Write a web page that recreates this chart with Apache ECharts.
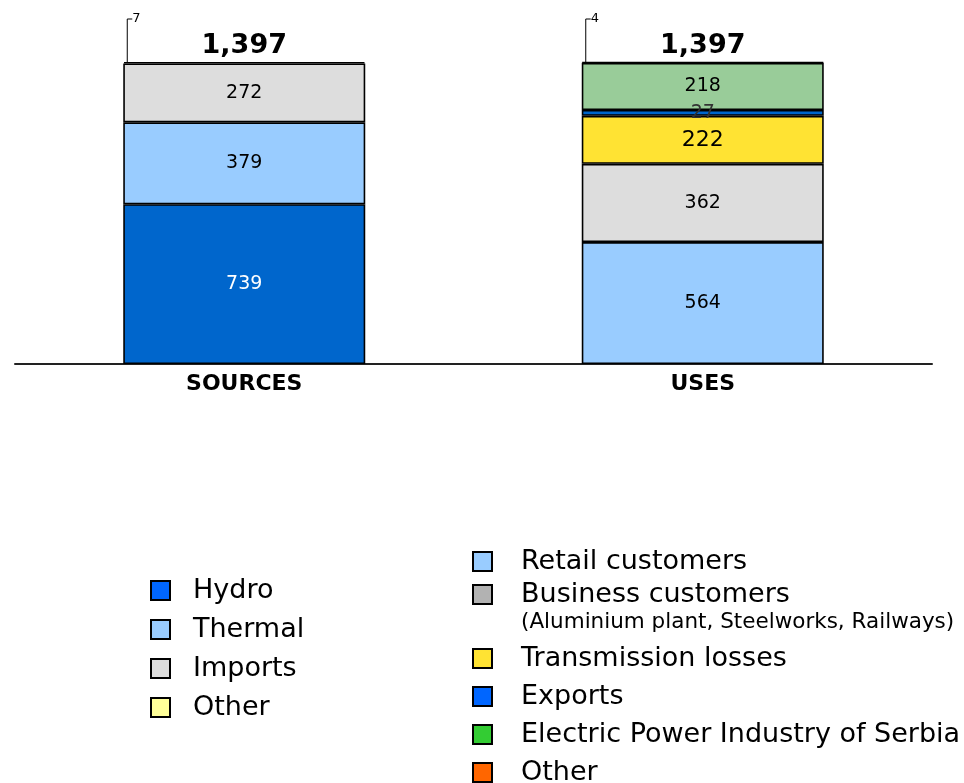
<!DOCTYPE html>
<html>
<head>
<meta charset="utf-8">
<script src="https://cdn.jsdelivr.net/npm/echarts@6/dist/echarts.min.js"></script>
<style>
  html, body { margin: 0; padding: 0; background: #fff; }
  #main { width: 964px; height: 783px; }
</style>
</head>
<body>
<div id="main"></div>
<script>
// data
var categories = ['SOURCES', 'USES'];
var sourceNames = ['Hydro', 'Thermal', 'Imports', 'Other'];
var sourceValues = [739, 379, 272, 7];
var useNames = ['Retail customers', 'Business customers', 'Transmission losses', 'Exports', 'Electric Power Industry of Serbia', 'Other uses'];
var useValues = [564, 362, 222, 27, 218, 4];

// colours (bar fill / legend key differ in the original)
var sourceBarColors = ['#0066CC', '#99CCFF', '#DDDDDD', '#FFFF99'];
var sourceKeyColors = ['#0066FF', '#99CCFF', '#DDDDDD', '#FFFF99'];
var useBarColors = ['#99CCFF', '#DDDDDD', '#FFE333', '#0066CC', '#99CC99', '#FF6600'];
var useKeyColors = ['#99CCFF', '#B2B2B2', '#FFE333', '#0066FF', '#33CC33', '#FF6600'];

var FONT = '"DejaVu Sans", Verdana, sans-serif';
var BAR_W = 242;

function sum(a) { return a.reduce(function (s, v) { return s + v; }, 0); }
var totals = [sum(sourceValues), sum(useValues)];

var series = [];
sourceNames.forEach(function (n, i) {
    series.push({
        name: n, type: 'bar', stack: 'all', barWidth: BAR_W,
        data: [sourceValues[i], '-'],
        itemStyle: { color: sourceBarColors[i], borderColor: '#000', borderWidth: 1.6 },
        label: {
            show: sourceValues[i] > 10, position: 'inside',
            fontFamily: FONT, fontSize: 19,
            color: i === 0 ? '#fff' : '#000'
        }
    });
});
useNames.forEach(function (n, i) {
    series.push({
        name: n, type: 'bar', stack: 'all', barWidth: BAR_W,
        data: ['-', useValues[i]],
        itemStyle: { color: useBarColors[i], borderColor: '#000', borderWidth: 1.6 },
        label: {
            show: useValues[i] > 10, position: 'inside',
            fontFamily: FONT, fontSize: i === 2 ? 22 : 19,
            color: i === 3 ? '#333' : '#000'
        }
    });
});

// totals above bars + the small "other" callout
series.push({
    type: 'custom', silent: true, z: 10,
    encode: { x: 0, y: 1 },
    data: [[0, totals[0], sourceValues[3]], [1, totals[1], useValues[5]]],
    renderItem: function (params, api) {
        var p = api.coord([api.value(0), api.value(1)]);
        var x0 = p[0] - BAR_W / 2 + 4;
        var y0 = p[1];
        return {
            type: 'group',
            children: [
                { type: 'polyline', shape: { points: [[x0, y0], [x0, y0 - 43], [x0 + 5, y0 - 43]] },
                  style: { stroke: '#000', lineWidth: 1, fill: null } },
                { type: 'text', style: { text: String(api.value(2)), x: x0 + 5, y: y0 - 43,
                  fontSize: 13, fontFamily: FONT, fill: '#000', verticalAlign: 'middle' } },
                { type: 'text', style: { text: api.value(1).toLocaleString('en-US'), x: p[0], y: y0 - 3,
                  align: 'center', verticalAlign: 'bottom', fontSize: 27, fontWeight: 'bold',
                  fontFamily: FONT, fill: '#000' } }
            ]
        };
    }
});

function keyItems(names, colors) {
    return names.map(function (n, i) {
        return { name: n, itemStyle: { color: colors[i], borderColor: '#000', borderWidth: 2 } };
    });
}

var legendBase = {
    orient: 'vertical', icon: 'rect', itemWidth: 19, itemHeight: 19, selectedMode: false,
    height: 300,
    textStyle: { fontSize: 27, fontFamily: FONT, color: '#000' }
};

var myChart = echarts.init(document.getElementById('main'));
myChart.setOption({
    animation: false,
    grid: { left: 15, right: 32, top: 62, bottom: 419 },
    xAxis: {
        type: 'category', data: categories,
        axisLine: { lineStyle: { color: '#222', width: 2 } },
        axisTick: { show: false },
        axisLabel: { fontFamily: FONT, fontSize: 22, fontWeight: 'bold', color: '#000', margin: 9 }
    },
    yAxis: { type: 'value', min: 0, max: Math.max(totals[0], totals[1]), show: false },
    legend: [
        Object.assign({}, legendBase, {
            left: 145, top: 572, itemGap: 12,
            data: keyItems(sourceNames, sourceKeyColors),
            textStyle: Object.assign({}, legendBase.textStyle, { padding: [0, 0, 0, 18] })
        }),
        Object.assign({}, legendBase, {
            left: 467, top: 543, itemGap: 6,
            data: keyItems(useNames, useKeyColors).slice(0, 2),
            textStyle: Object.assign({}, legendBase.textStyle, { padding: [0, 0, 0, 24] })
        }),
        Object.assign({}, legendBase, {
            left: 467, top: 640, itemGap: 11,
            data: keyItems(useNames.slice(2), useKeyColors.slice(2)),
            formatter: function (name) { return name === 'Other uses' ? 'Other' : name; },
            textStyle: Object.assign({}, legendBase.textStyle, { padding: [0, 0, 0, 24] })
        })
    ],
    graphic: [{
        type: 'text', left: 521, top: 611,
        style: { text: '(Aluminium plant, Steelworks, Railways)', fontSize: 21.5, fontFamily: FONT, fill: '#000' }
    }],
    series: series
});
</script>
</body>
</html>
